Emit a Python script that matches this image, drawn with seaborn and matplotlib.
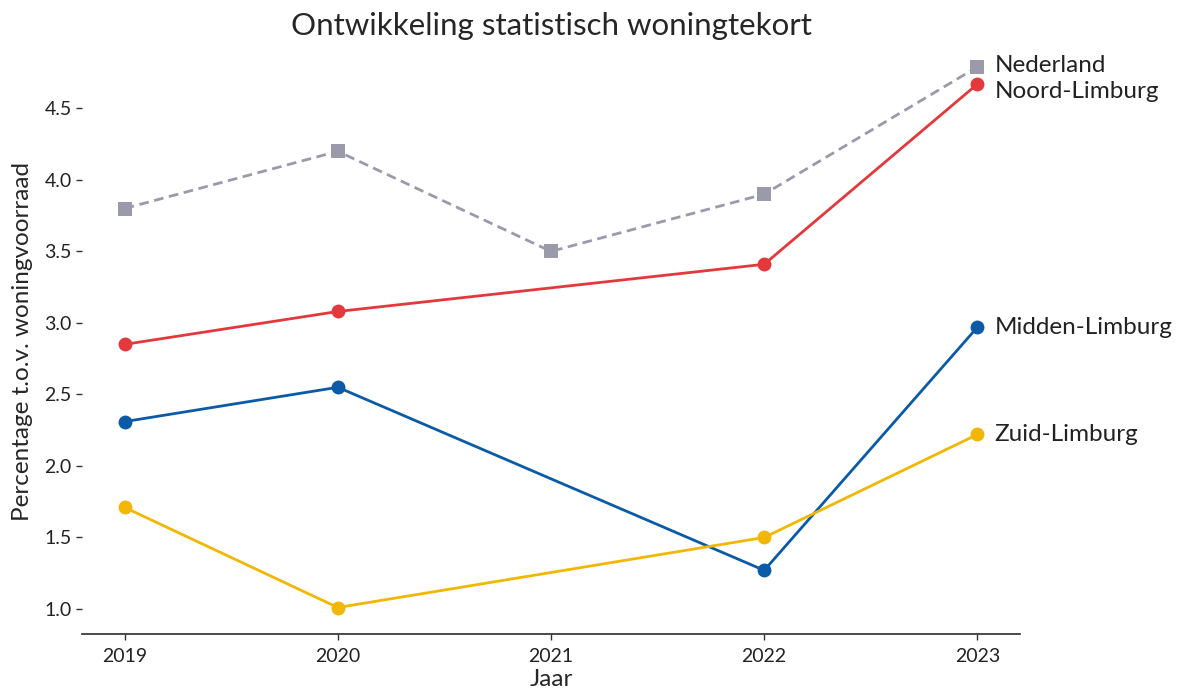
import matplotlib
matplotlib.use("Agg")
import matplotlib.pyplot as plt
import seaborn as sns
import pandas as pd
import numpy as np

years = [2019, 2020, 2021, 2022, 2023]
nederland = [3.8, 4.2, 3.5, 3.9, 4.79]
noord_limburg = [2.85, 3.08, np.nan, 3.41, 4.67]
midden_limburg = [2.31, 2.55, np.nan, 1.27, 2.97]
zuid_limburg = [1.71, 1.01, np.nan, 1.50, 2.22]
regions = ["Nederland", "Noord-Limburg", "Midden-Limburg", "Zuid-Limburg"]
series = [nederland, noord_limburg, midden_limburg, zuid_limburg]

colors = {"Nederland": "#9b9aab", "Noord-Limburg": "#e3383c",
          "Midden-Limburg": "#0b5aa7", "Zuid-Limburg": "#f2b705"}
markers = {"Nederland": "s", "Noord-Limburg": "o", "Midden-Limburg": "o", "Zuid-Limburg": "o"}
dashes = {"Nederland": (3.5, 2), "Noord-Limburg": "", "Midden-Limburg": "", "Zuid-Limburg": ""}

rows = []
for r, vals in zip(regions, series):
    for y, v in zip(years, vals):
        if not np.isnan(v):
            rows.append({"Jaar": y, "Waarde": v, "Regio": r})
df = pd.DataFrame(rows)

sns.set_theme(style="ticks")
plt.rcParams["font.family"] = ["Lato", "DejaVu Sans"]

fig = plt.figure(figsize=(11.81, 6.91), dpi=100)
ax = fig.add_axes([0.0694, 0.0825, 0.7943, 0.8455])

sns.lineplot(data=df, x="Jaar", y="Waarde", hue="Regio", style="Regio",
             palette=colors, markers=markers, dashes=dashes, markersize=10,
             markeredgewidth=0, linewidth=2, legend=False, ax=ax)

ax.set_xlim(2018.8, 2023.2)
ax.set_ylim(0.825, 4.91)
ax.set_xticks(years)
ax.set_xticklabels([str(y) for y in years])
ax.set_yticks([1.0, 1.5, 2.0, 2.5, 3.0, 3.5, 4.0, 4.5])
ax.tick_params(axis="both", labelsize=14, length=4, width=1, colors="#333333", labelcolor="#222222")
ax.tick_params(axis="x", pad=6)
sns.despine(ax=ax, left=True)
ax.spines["bottom"].set_color("#333333")

ax.set_xlabel("Jaar", fontsize=17.5, labelpad=3)
ax.set_ylabel("Percentage t.o.v. woningvoorraad", fontsize=17.5, labelpad=8)
fig.suptitle("Ontwikkeling statistisch woningtekort", fontsize=22.5, x=0.467, y=0.982)

offsets = {"Nederland": 0.01, "Noord-Limburg": -0.05, "Midden-Limburg": 0.0, "Zuid-Limburg": 0.0}
for r, vals in zip(regions, series):
    ax.text(years[-1] + 0.08, vals[-1] + offsets[r], r, fontsize=17.5,
            va="center", ha="left", color="#222222")

fig.savefig("out.png", dpi=100)
